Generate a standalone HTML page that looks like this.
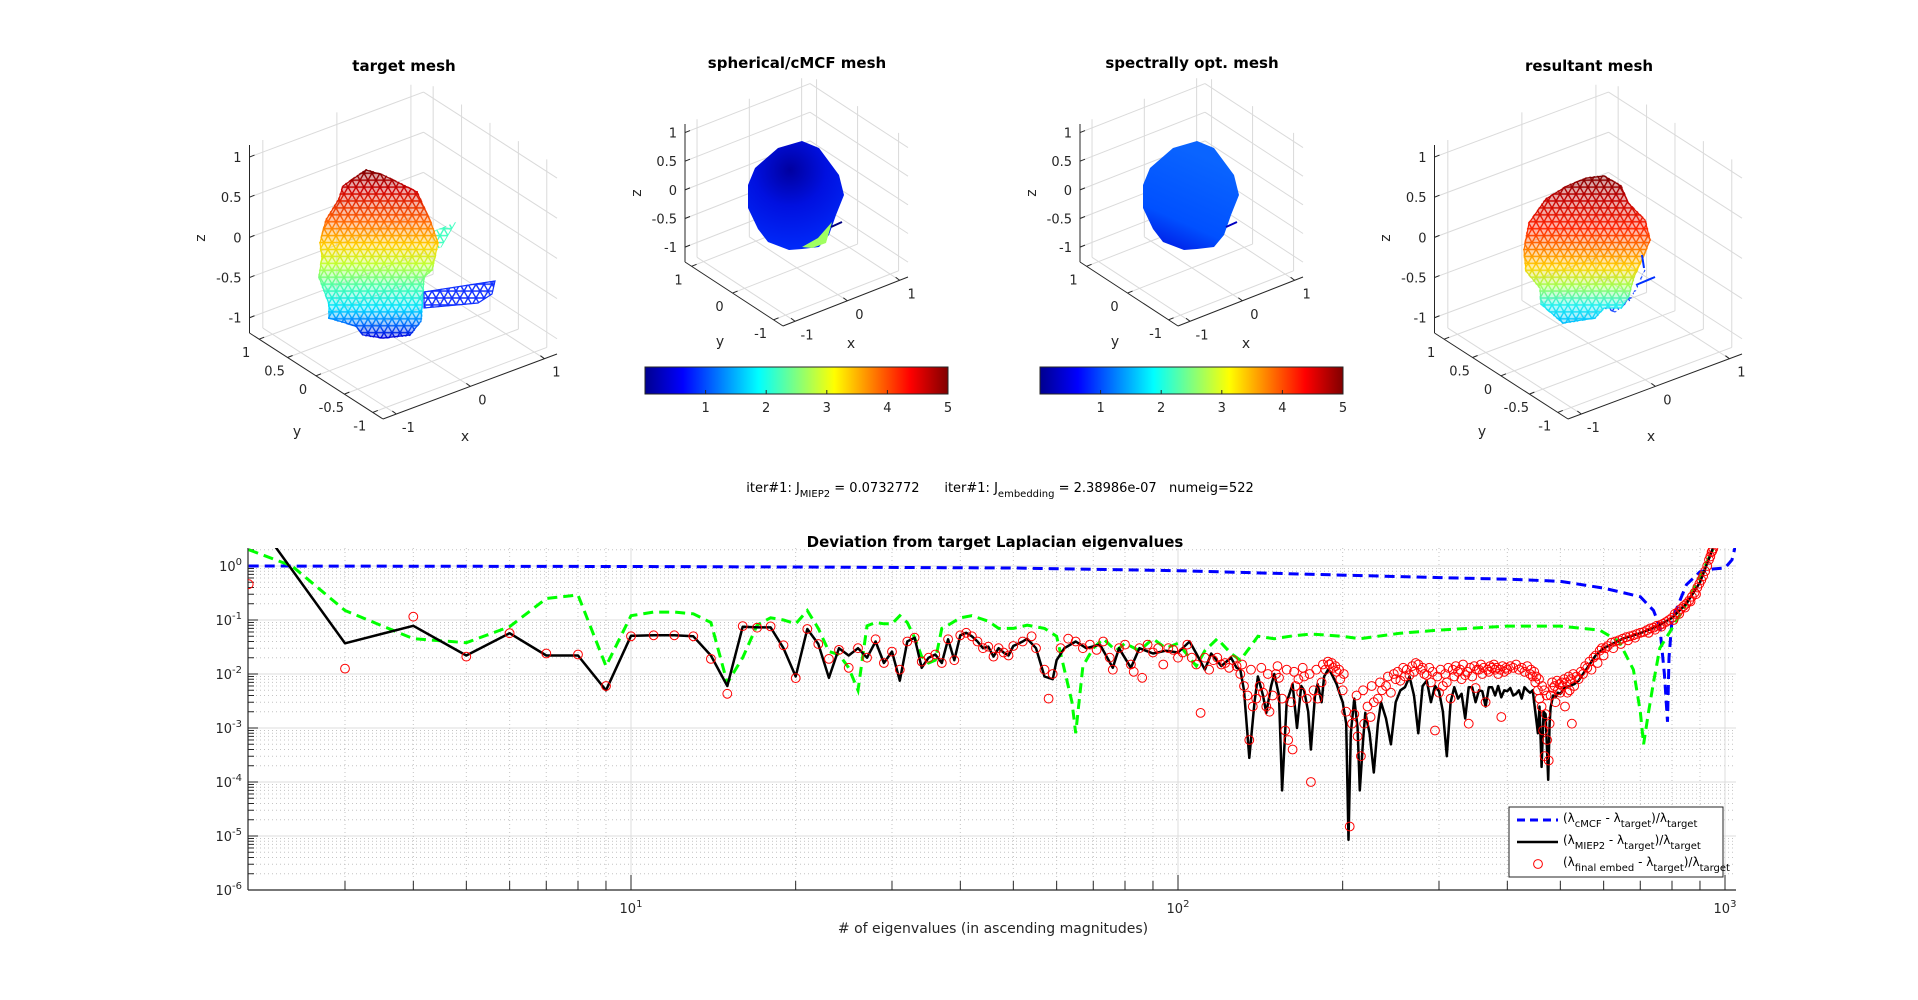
<!DOCTYPE html>
<html><head><meta charset="utf-8"><style>
html,body{margin:0;padding:0;background:#fff;}
svg{display:block;font-family:"DejaVu Sans","Liberation Sans",sans-serif;}
</style></head><body>
<svg id="fig" width="1918" height="1000" viewBox="0 0 1918 1000" xmlns="http://www.w3.org/2000/svg">
<defs>
<linearGradient id="jetH" x1="0" x2="1" y1="0" y2="0">
<stop offset="0" stop-color="#00008f"/><stop offset="0.125" stop-color="#0000ff"/><stop offset="0.375" stop-color="#00ffff"/><stop offset="0.625" stop-color="#ffff00"/><stop offset="0.875" stop-color="#ff0000"/><stop offset="1" stop-color="#800000"/>
</linearGradient>
<linearGradient id="g1" gradientUnits="userSpaceOnUse" x1="0" x2="0" y1="170" y2="338">
<stop offset="0" stop-color="#7f0000"/><stop offset="0.12" stop-color="#d00000"/><stop offset="0.3" stop-color="#ff6000"/><stop offset="0.45" stop-color="#ffd000"/><stop offset="0.56" stop-color="#c0ff30"/><stop offset="0.7" stop-color="#40ffb0"/><stop offset="0.82" stop-color="#00e0ff"/><stop offset="0.9" stop-color="#0080ff"/><stop offset="1" stop-color="#0000e0"/>
</linearGradient>
<linearGradient id="g4" gradientUnits="userSpaceOnUse" x1="0" x2="0" y1="176" y2="323">
<stop offset="0" stop-color="#800000"/><stop offset="0.15" stop-color="#c00000"/><stop offset="0.35" stop-color="#ff2000"/><stop offset="0.5" stop-color="#ff8000"/><stop offset="0.62" stop-color="#ffd000"/><stop offset="0.75" stop-color="#a0ff50"/><stop offset="0.88" stop-color="#20f0f0"/><stop offset="1" stop-color="#00c0ff"/>
</linearGradient>
<radialGradient id="g2" gradientUnits="userSpaceOnUse" cx="790" cy="170" r="90">
<stop offset="0" stop-color="#0000a0"/><stop offset="0.4" stop-color="#0010e0"/><stop offset="1" stop-color="#0030ff"/>
</radialGradient>
<linearGradient id="g3" gradientUnits="userSpaceOnUse" x1="1150" x2="1190" y1="240" y2="150">
<stop offset="0" stop-color="#0020e8"/><stop offset="0.3" stop-color="#0050ff"/><stop offset="1" stop-color="#0a64ff"/>
</linearGradient>
<pattern id="tri" patternUnits="userSpaceOnUse" width="8" height="13.86">
<path d="M0 0L8 13.86M8 0L12 6.93M-4 6.93L0 13.86M8 0L0 13.86M0 0L-4 6.93M12 6.93L8 13.86M0 0H8M0 6.93H8M0 13.86H8" stroke="#fff" stroke-width="1.4" fill="none"/>
</pattern>
<mask id="meshMask" maskUnits="userSpaceOnUse" x="0" y="0" width="1918" height="1000">
<rect x="0" y="0" width="1918" height="1000" fill="url(#tri)"/>
</mask>
<clipPath id="plotClip"><rect x="248" y="548" width="1488" height="342"/></clipPath>
</defs>
<g id="topPanels"></g>
<g id="bottomChart"></g>
</svg>
<script>
// ---------- bottom chart data ----------
const blackN = [2,3,4,5,6,7,8,9,10,11,12,13,14,15,16,17,18,19,20,21,22,23,24,25,26,27,28,29,30,31,32,33,34,35,36,37,38,39,40,41,42,43,44,45,46,47,48,49,50,
52,53,55,57,59,60,62,65,68,72,76,78,82,85,90,95,100,105,108,112,115,120,125,128,130,132,135,138,140,143,145,148,150,153,155,158,162,165,168,170,173,175,178,180,183,185,188,190,193,195,198,200,203,205,207,210,213,215,218,220,224,228,232,235,240,245,250,255,260,265,270,275,280,285,290,295,300,305,310,315,320,325,330,335,340,345,350,355,360,365,370,375,380,385,390,395,400,405,410,415,420,425,430,435,440,445,450,455,458,462,466,470,475,478,480,485,490,495,500,510,520,530,540,550,560,580,600,650,700,750,800,850,900,930,950];
const blackV = [11,0.037,0.078,0.022,0.057,0.022,0.022,0.005,0.051,0.052,0.052,0.05,0.022,0.006,0.075,0.073,0.073,0.03,0.009,0.068,0.036,0.0085,0.03,0.022,0.03,0.02,0.04,0.016,0.026,0.0075,0.04,0.047,0.013,0.02,0.023,0.016,0.044,0.018,0.052,0.058,0.05,0.04,0.03,0.032,0.021,0.03,0.025,0.022,0.033,
0.04,0.045,0.03,0.009,0.008,0.018,0.03,0.04,0.03,0.035,0.013,0.03,0.013,0.03,0.024,0.027,0.025,0.04,0.024,0.012,0.024,0.014,0.02,0.013,0.012,0.005,0.00028,0.003,0.009,0.004,0.0019,0.006,0.01,0.004,0.00007,0.003,0.0065,0.001,0.006,0.005,0.002,0.0004,0.004,0.0065,0.003,0.009,0.012,0.011,0.008,0.0065,0.004,0.003,0.0012,0.0000085,0.0008,0.0035,0.001,0.00007,0.0006,0.0019,0.0008,0.00015,0.0012,0.003,0.0015,0.0005,0.003,0.005,0.0057,0.009,0.004,0.0008,0.006,0.0075,0.003,0.006,0.0048,0.002,0.0003,0.003,0.0057,0.0035,0.0043,0.0015,0.0057,0.0057,0.003,0.005,0.0048,0.0025,0.0057,0.0057,0.004,0.006,0.0037,0.005,0.0048,0.0055,0.004,0.0043,0.005,0.0035,0.0057,0.005,0.0045,0.005,0.002,0.0008,0.0025,0.00019,0.002,0.0018,0.00011,0.0012,0.0024,0.004,0.0037,0.0045,0.0043,0.0057,0.006,0.0065,0.0075,0.01,0.013,0.022,0.03,0.045,0.057,0.075,0.11,0.2,0.5,1.2,2.1];

const redN = [2,3,4,5,6,7,8,9,10,11,12,13,14,15,16,17,18,19,20,21,22,23,24,25,26,27,28,29,30,31,32,33,34,35,36,37,38,39,40,41,42,43,44,45,46,47,48,49,50,
52,54,55,57,58,59,61,63,65,67,69,71,73,75,76,78,80,82,83,85,86,88,90,92,94,96,98,100,102,104,106,108,110,112,114,116,118,120,122,124,126,128,130,132,134,135,137,139,141,143,145,147,149,151,153,155,157,159,161,162,164,166,168,170,172,175,177,180,183,186,189,192,195,198,200,203,206,208,210,213,216,219,222,225,228,232,236,240,245,250,255,260,265,270,275,280,285,290,295,300,305,310,315,320,325,330,335,340,345,350,355,360,365,370,375,380,385,390,395,400,410,420,430,440,445,450,455,458,462,465,468,470,473,476,478,480,485,490,495,500,505,510,515,520,525,530,540,550,560,575,590,610,630,650,670,690,710,730,750,770,790,810,830,850,870,890,905,920,935,945,952,
252,258,262,268,272,278,282,288,292,298,302,308,312,318,322,328,332,338,342,348,352,358,362,368,372,378,382,388,392,398,405,415,425,435,442,448,452,457,463,467,472,483,488,493,498,503,508,513,518,523,528,535,545,555,565,570,580,585,595,600,605,620,625,640,645,660,665,680,685,700,720,725,740,745,760,765,780,800,805,820,825,840,845,860,865,880,885,898,912,928,940,948,
131,136,142,146,152,158,163,169,174,179,184,188,191,194,197,201,212,218,226,234,242,248];
const redV = [0.46,0.0126,0.115,0.021,0.057,0.024,0.023,0.006,0.05,0.052,0.052,0.05,0.019,0.0043,0.077,0.072,0.076,0.034,0.0084,0.068,0.036,0.019,0.028,0.013,0.03,0.02,0.044,0.016,0.026,0.012,0.04,0.047,0.017,0.02,0.023,0.016,0.044,0.018,0.052,0.058,0.05,0.04,0.03,0.032,0.021,0.03,0.025,0.022,0.033,
0.04,0.05,0.03,0.012,0.0035,0.01,0.03,0.045,0.04,0.03,0.035,0.028,0.04,0.02,0.012,0.03,0.035,0.015,0.011,0.03,0.0085,0.035,0.025,0.03,0.015,0.03,0.028,0.02,0.025,0.035,0.02,0.015,0.0019,0.02,0.012,0.018,0.02,0.015,0.016,0.013,0.018,0.014,0.01,0.006,0.004,0.0006,0.0025,0.0035,0.006,0.0045,0.0025,0.002,0.004,0.01,0.0085,0.0035,0.0009,0.0006,0.003,0.0004,0.006,0.008,0.0045,0.009,0.0035,0.0001,0.005,0.0035,0.007,0.012,0.015,0.013,0.011,0.008,0.005,0.002,0.000015,0.0012,0.0018,0.0007,0.0003,0.0012,0.0025,0.0016,0.003,0.0035,0.005,0.006,0.0045,0.008,0.0075,0.009,0.0095,0.011,0.015,0.013,0.0095,0.007,0.0009,0.0045,0.006,0.007,0.0035,0.009,0.011,0.008,0.0095,0.0012,0.009,0.0055,0.012,0.01,0.003,0.011,0.013,0.012,0.01,0.0016,0.011,0.012,0.013,0.012,0.011,0.01,0.009,0.007,0.005,0.0035,0.0025,0.0009,0.0003,0.0018,0.0006,0.00025,0.0012,0.004,0.0055,0.003,0.005,0.0045,0.006,0.0025,0.0045,0.005,0.0012,0.006,0.008,0.01,0.013,0.02,0.027,0.033,0.04,0.045,0.05,0.055,0.06,0.07,0.078,0.085,0.1,0.13,0.16,0.2,0.27,0.4,0.55,0.8,1.3,1.8,2.1,
0.011,0.013,0.012,0.014,0.016,0.012,0.01,0.013,0.011,0.009,0.012,0.01,0.013,0.012,0.014,0.012,0.015,0.011,0.013,0.014,0.012,0.015,0.013,0.012,0.014,0.015,0.013,0.012,0.014,0.013,0.014,0.015,0.013,0.014,0.012,0.011,0.009,0.008,0.006,0.005,0.004,0.007,0.006,0.0075,0.0065,0.007,0.008,0.007,0.009,0.008,0.01,0.009,0.011,0.014,0.017,0.012,0.022,0.016,0.03,0.022,0.03,0.038,0.03,0.042,0.036,0.048,0.042,0.052,0.047,0.058,0.065,0.058,0.072,0.066,0.08,0.075,0.092,0.11,0.1,0.14,0.13,0.18,0.17,0.23,0.22,0.32,0.3,0.47,0.65,1.0,1.5,1.9,
0.015,0.012,0.013,0.01,0.014,0.012,0.011,0.013,0.01,0.012,0.015,0.017,0.016,0.014,0.012,0.01,0.004,0.005,0.006,0.007,0.009,0.01];

const greenN = [2,2.4,3,4,5,6,7,8,9,10,11,12,13,14,15,16,17,18,19,20,21,22,23,24,25,26,27,28,29,30,31,32,33,34,35,36,37,38,40,42,45,47,50,53,57,60,62,64,65,67,70,73,77,80,85,90,95,100,108,112,118,125,130,135,140,150,160,175,200,215,255,300,400,500,590,640,680,700,710,725,740,760,800,850,900,950];
const greenV = [2.0,1.0,0.15,0.045,0.038,0.075,0.25,0.29,0.014,0.12,0.14,0.14,0.13,0.09,0.0068,0.02,0.08,0.11,0.1,0.085,0.15,0.07,0.026,0.023,0.013,0.005,0.078,0.09,0.085,0.085,0.12,0.09,0.047,0.021,0.016,0.018,0.07,0.08,0.11,0.12,0.095,0.07,0.07,0.08,0.07,0.05,0.012,0.003,0.0008,0.014,0.03,0.045,0.027,0.037,0.027,0.045,0.03,0.037,0.014,0.027,0.045,0.024,0.018,0.03,0.05,0.045,0.05,0.055,0.05,0.045,0.057,0.065,0.077,0.077,0.065,0.04,0.012,0.002,0.0005,0.002,0.007,0.03,0.07,0.2,0.63,2.0];

const blueN = [2,10,20,50,100,167,300,400,500,600,700,740,760,775,785,790,800,850,900,950,1000,1030,1043];
const blueV = [1.0,0.98,0.96,0.92,0.82,0.71,0.61,0.57,0.52,0.39,0.27,0.15,0.075,0.01,0.0013,0.02,0.1,0.45,0.78,0.88,0.92,1.3,2.2];

const yTickExp = [0,-1,-2,-3,-4,-5,-6];
const xTickExp = [1,2,3];

const NS = 'http://www.w3.org/2000/svg';
function mk(tag, attrs, parent, text){
  const e = document.createElementNS(NS, tag);
  for (const k in attrs) e.setAttribute(k, attrs[k]);
  if (text !== undefined) e.textContent = text;
  if (parent) parent.appendChild(e);
  return e;
}

const AX = {l:248, r:1736, t:548, b:890};
function X(n){ return 631 + 547*(Math.log10(n)-1); }
function Y(v){ return 566 - 54*Math.log10(v); }
const botG = document.getElementById('bottomChart');

const grid = mk('g', {}, botG);


for (let d=-6; d<=0; d++){
  for (let k=1; k<=9; k++){
    const v = k*Math.pow(10,d), y = Y(v);
    if (y < AX.t || y > AX.b) continue;
    if (k===1){ if (d>-6) mk('line',{x1:AX.l,x2:AX.r,y1:y,y2:y,stroke:'#dcdcdc','stroke-width':1},grid); }
    else mk('line',{x1:AX.l,x2:AX.r,y1:y,y2:y,stroke:'#c4c4c4','stroke-width':1,'stroke-dasharray':'1,3'},grid);
  }
}
for (let d=0; d<=3; d++){
  for (let k=1; k<=9; k++){
    const n = k*Math.pow(10,d), x = X(n);
    if (x < AX.l+1 || x > AX.r) continue;
    if (k===1) mk('line',{x1:x,x2:x,y1:AX.t,y2:AX.b,stroke:'#dcdcdc','stroke-width':1},grid);
    else mk('line',{x1:x,x2:x,y1:AX.t,y2:AX.b,stroke:'#c4c4c4','stroke-width':1,'stroke-dasharray':'1,3'},grid);
  }
}
const ticksG = mk('g', {stroke:'#262626','stroke-width':1}, botG);
for (let d=-6; d<=0; d++){
  for (let k=1; k<=9; k++){
    const y = Y(k*Math.pow(10,d));
    if (y < AX.t || y > AX.b) continue;
    mk('line',{x1:AX.l,x2:AX.l+(k===1?10:6),y1:y,y2:y},ticksG);
  }
}
for (let d=0; d<=3; d++){
  for (let k=1; k<=9; k++){
    const x = X(k*Math.pow(10,d));
    if (x < AX.l+1 || x > AX.r) continue;
    mk('line',{x1:x,x2:x,y1:AX.b,y2:AX.b-(k===1?15:9)},ticksG);
  }
}
const ya = mk('line',{x1:AX.l,x2:AX.l,y1:AX.t,y2:AX.b,stroke:'#262626','stroke-width':1.2},botG);


const xa = mk('line',{x1:AX.l,x2:AX.r,y1:AX.b,y2:AX.b,stroke:'#262626','stroke-width':1.2},botG);


yTickExp.forEach(e=>{
  const t = mk('text',{x:AX.l-6,y:Y(Math.pow(10,e))+5,'text-anchor':'end','font-size':13,fill:'#262626'},botG);
  
  
  mk('tspan',{},t,'10');
  mk('tspan',{dy:-6,'font-size':10},t,String(e));
});
xTickExp.forEach(e=>{
  const t = mk('text',{x:X(Math.pow(10,e)),y:913,'text-anchor':'middle','font-size':13,fill:'#262626'},botG);
  
  
  mk('tspan',{},t,'10');
  mk('tspan',{dy:-6,'font-size':10},t,String(e));
});

const plotG = mk('g',{'clip-path':'url(#plotClip)'},botG);
function pathOf(ns, vs){ return ns.map((n,i)=>(i?'L':'M')+X(n).toFixed(1)+' '+Y(vs[i]).toFixed(1)).join(''); }
const blueP = mk('path',{d:pathOf(blueN,blueV),fill:'none',stroke:'#0000ff','stroke-width':3,'stroke-dasharray':'10,6'},plotG);


const greenP = mk('path',{d:pathOf(greenN,greenV),fill:'none',stroke:'#00ff00','stroke-width':3,'stroke-dasharray':'10,6'},plotG);


const blackP = mk('path',{d:pathOf(blackN,blackV),fill:'none',stroke:'#000','stroke-width':2.5,'stroke-linejoin':'round'},plotG);


const redsG = mk('g',{fill:'none',stroke:'#ff0000','stroke-width':1},plotG);


redN.forEach((n,i)=>{
  const c = mk('circle',{cx:X(n).toFixed(1),cy:Y(redV[i]).toFixed(1),r:4.4},redsG);
  
  
});

const ttl = mk('text',{x:995,y:547,'text-anchor':'middle','font-size':15,'font-weight':'bold',fill:'#000'},botG,'Deviation from target Laplacian eigenvalues');


const xl = mk('text',{x:993,y:933,'text-anchor':'middle','font-size':14,fill:'#262626'},botG,'# of eigenvalues (in ascending magnitudes)');



const lg = mk('g',{},botG);


mk('rect',{x:1509,y:807,width:214,height:70,fill:'#fff',stroke:'#262626','stroke-width':1},lg);
const legItems = [['cMCF','blue'],['MIEP2','black'],['final embed','red']];
legItems.forEach((it,i)=>{
  const y = 820 + i*22;
  const ent = mk('g',{},lg);
  
  
  if (it[1]==='blue') mk('line',{x1:1517,x2:1558,y1:y,y2:y,stroke:'#0000ff','stroke-width':3,'stroke-dasharray':'8,5'},ent);
  if (it[1]==='black') mk('line',{x1:1517,x2:1558,y1:y,y2:y,stroke:'#000','stroke-width':2.5},ent);
  if (it[1]==='red') mk('circle',{cx:1538,cy:y,r:4.4,fill:'none',stroke:'#ff0000'},ent);
  const t = mk('text',{x:1563,y:y+2,'font-size':12,fill:'#000'},ent);
  mk('tspan',{},t,'(λ');
  mk('tspan',{dy:5,'font-size':10},t,it[0]);
  mk('tspan',{dy:-5},t,' - λ');
  mk('tspan',{dy:5,'font-size':10},t,'target');
  mk('tspan',{dy:-5},t,')/λ');
  mk('tspan',{dy:5,'font-size':10},t,'target');
});

const info = mk('text',{x:1000,y:492,'text-anchor':'middle','font-size':13,fill:'#000'},botG);


info.style.whiteSpace = 'pre';
mk('tspan',{},info,'iter#1: J');
mk('tspan',{dy:5,'font-size':10},info,'MIEP2');
mk('tspan',{dy:-5},info,' = 0.0732772      iter#1: J');
mk('tspan',{dy:5,'font-size':10},info,'embedding');
mk('tspan',{dy:-5},info,' = 2.38986e-07   numeig=522');

// ---------- top 3D panels ----------
const topG = document.getElementById('topPanels');
function panel(cfg){
  const g = mk('g',{},topG);
  
  
  const ox = cfg.O[0], oy = cfg.O[1], ex=cfg.ex, ey=cfg.ey, H=cfg.H;
  const tx = v => (v-cfg.xr[0])/(cfg.xr[1]-cfg.xr[0]);
  const ty = v => (v-cfg.yr[0])/(cfg.yr[1]-cfg.yr[0]);
  const tz = v => (v-cfg.zr[0])/(cfg.zr[1]-cfg.zr[0]);
  const P = (a,b,c) => [ox + a*ex[0] + b*ey[0], oy + a*ex[1] + b*ey[1] - c*H];
  const gl = mk('g',{stroke:'#dadada','stroke-width':1},g);
  const L = (p,q,par) => mk('line',{x1:p[0],y1:p[1],x2:q[0],y2:q[1]},par);
  cfg.xt.forEach(v=>{ L(P(tx(v),1,0),P(tx(v),1,1),gl); L(P(tx(v),0,0),P(tx(v),1,0),gl); });
  cfg.yt.forEach(v=>{ L(P(1,ty(v),0),P(1,ty(v),1),gl); L(P(0,ty(v),0),P(1,ty(v),0),gl); });
  cfg.zt.forEach(v=>{ L(P(0,1,tz(v)),P(1,1,tz(v)),gl); L(P(1,1,tz(v)),P(1,0,tz(v)),gl); });
  const ax = mk('g',{stroke:'#262626','stroke-width':1},g);
  L(P(0,1,0),P(0,1,1),ax); L(P(0,0,0),P(0,1,0),ax); L(P(0,0,0),P(1,0,0),ax);
  cfg.zt.forEach(v=>{ const p=P(0,1,tz(v)); L(p,[p[0]+5,p[1]-2],ax);
    const t=mk('text',{x:p[0]-8,y:p[1]+5,'text-anchor':'end','font-size':13,fill:'#262626'},g,String(v));
      });
  cfg.yt.forEach(v=>{ const p=P(0,ty(v),0); L(p,[p[0]+5,p[1]-2],ax);
    const t=mk('text',{x:p[0]-13,y:p[1]+18,'text-anchor':'middle','font-size':13,fill:'#262626'},g,String(v));
      });
  cfg.xt.forEach(v=>{ const p=P(tx(v),0,0); L(p,[p[0]-4,p[1]-3],ax);
    const t=mk('text',{x:p[0]+12,y:p[1]+18,'text-anchor':'middle','font-size':13,fill:'#262626'},g,String(v));
      });
  const lx = mk('text',{x:cfg.xl[0],y:cfg.xl[1],'text-anchor':'middle','font-size':14,fill:'#262626'},g,'x');
   
  const ly = mk('text',{x:cfg.yl[0],y:cfg.yl[1],'text-anchor':'middle','font-size':14,fill:'#262626'},g,'y');
   
  const lz = mk('text',{x:cfg.zl[0],y:cfg.zl[1],'text-anchor':'middle','font-size':14,fill:'#262626',transform:'rotate(-90 '+cfg.zl[0]+' '+cfg.zl[1]+')'},g,'z');
   
  const tt = mk('text',{x:cfg.title[1],y:cfg.title[2],'text-anchor':'middle','font-size':15,'font-weight':'bold',fill:'#000'},g,cfg.title[0]);
   
  return g;
}
function poly(par, pts, attrs, nm){
  const p = mk('polygon', Object.assign({points: pts.map(q=>q.join(',')).join(' ')}, attrs), par);
  
  
  return p;
}

const p1 = panel({name:'target-mesh-panel',O:[383,419],ex:[174,-65],ey:[-133.5,-86],H:188,xr:[-1.18,1.17],yr:[-1.18,1.17],zr:[-1.19,1.15],
  xt:[-1,0,1],yt:[-1,-0.5,0,0.5,1],zt:[-1,-0.5,0,0.5,1],xl:[465,441],yl:[297,436],zl:[205,238],title:['target mesh',404,71]});
const shape1 = [[366,170],[383,175],[397,182],[417,192],[431,223],[438,243],[432,270],[424,277],[421,321],[410,335],[383,338],[363,335],[356,326],[329,318],[329,304],[319,277],[322,257],[320,243],[326,220],[339,199],[343,186]];
poly(p1,shape1,{fill:'url(#g1)','fill-opacity':0.35},'target-mesh-fill');
const m1 = mk('g',{mask:'url(#meshMask)'},p1);
poly(m1,[[424,292],[495,281],[492,294],[478,303],[424,308]],{fill:'#1030ff',stroke:'#1030ff'},'mesh-tail');
poly(m1,[[432,232],[455,223],[441,247],[432,250]],{fill:'#40ffc0',stroke:'#40ffc0'},'mesh-fin');
poly(m1,shape1,{fill:'url(#g1)',stroke:'url(#g1)','stroke-width':2},'target-mesh');
poly(p1,[[424,292],[495,281],[492,294],[478,303],[424,308]],{fill:'none',stroke:'#1030ff','stroke-width':1.2},'mesh-tail-outline');
poly(p1,shape1,{fill:'none',stroke:'url(#g1)','stroke-width':1.2},'target-mesh-outline');

const p4 = panel({name:'resultant-mesh-panel',O:[1568,419],ex:[174,-65],ey:[-133.5,-86],H:188,xr:[-1.18,1.17],yr:[-1.18,1.17],zr:[-1.19,1.15],
  xt:[-1,0,1],yt:[-1,-0.5,0,0.5,1],zt:[-1,-0.5,0,0.5,1],xl:[1651,441],yl:[1482,436],zl:[1390,238],title:['resultant mesh',1589,71]});
const shape4 = [[1587,178],[1604,176],[1621,186],[1628,203],[1645,220],[1650,240],[1643,257],[1634,277],[1628,298],[1621,308],[1604,308],[1595,318],[1563,323],[1541,304],[1540,288],[1526,271],[1524,250],[1529,223],[1546,199],[1567,186]];
poly(p4,shape4,{fill:'url(#g4)','fill-opacity':0.35},'resultant-mesh-fill');
const m4 = mk('g',{mask:'url(#meshMask)'},p4);
poly(m4,shape4,{fill:'url(#g4)',stroke:'url(#g4)','stroke-width':2},'resultant-mesh');
poly(m4,[[1604,308],[1621,308],[1636,290],[1645,270],[1630,300],[1615,312]],{fill:'#1040ff',stroke:'#1040ff'},'resultant-mesh-blue');
poly(p4,shape4,{fill:'none',stroke:'url(#g4)','stroke-width':1.2},'resultant-mesh-outline');
mk('path',{d:'M1636 285L1655 277M1642 255L1644 268',stroke:'#0030ff','stroke-width':2,fill:'none'},p4);

function colorbar(par,x0){
  const cb = mk('g',{},par);
  
  
  mk('rect',{x:x0,y:367,width:303,height:27,fill:'url(#jetH)',stroke:'#262626','stroke-width':1},cb);
  [1,2,3,4,5].forEach(v=>{
    const x = x0 + v*60.6;
    mk('line',{x1:x,x2:x,y1:394,y2:390,stroke:'#262626'},cb);
    mk('text',{x:x,y:412,'text-anchor':'middle','font-size':13,fill:'#262626'},cb,String(v));
  });
}

const p2 = panel({name:'spherical-cmcf-panel',O:[783,326],ex:[125,-49],ey:[-98,-64],H:138,xr:[-1.23,1.16],yr:[-1.23,1.16],zr:[-1.26,1.15],
  xt:[-1,0,1],yt:[-1,0,1],zt:[-1,-0.5,0,0.5,1],xl:[851,348],yl:[720,346],zl:[641,193],title:['spherical/cMCF mesh',797,68]});
const shape2 = [[778,148],[802,141],[819,148],[839,175],[844,195],[836,215],[829,235],[819,247],[802,249],[789,250],[768,242],[758,229],[748,208],[748,185],[755,168]];
poly(p2,shape2,{fill:'url(#g2)'},'spherical-mesh');
poly(p2,[[802,247],[818,238],[832,222],[826,243],[812,248]],{fill:'#a0ff60'},'spherical-mesh-patch');
mk('path',{d:'M831 227L842 222',stroke:'#000080','stroke-width':2},p2);
colorbar(p2,645);

const p3 = panel({name:'spectrally-opt-panel',O:[1178,326],ex:[125,-49],ey:[-98,-64],H:138,xr:[-1.23,1.16],yr:[-1.23,1.16],zr:[-1.26,1.15],
  xt:[-1,0,1],yt:[-1,0,1],zt:[-1,-0.5,0,0.5,1],xl:[1246,348],yl:[1115,346],zl:[1036,193],title:['spectrally opt. mesh',1192,68]});
const shape3 = [[1173,148],[1197,141],[1214,148],[1234,175],[1239,195],[1231,215],[1224,235],[1214,247],[1197,249],[1184,250],[1163,242],[1153,229],[1143,208],[1143,185],[1150,168]];
poly(p3,shape3,{fill:'url(#g3)'},'spectral-mesh');
mk('path',{d:'M1226 227L1237 222',stroke:'#0000c0','stroke-width':2},p3);
colorbar(p3,1040);
</script>
</body></html>
